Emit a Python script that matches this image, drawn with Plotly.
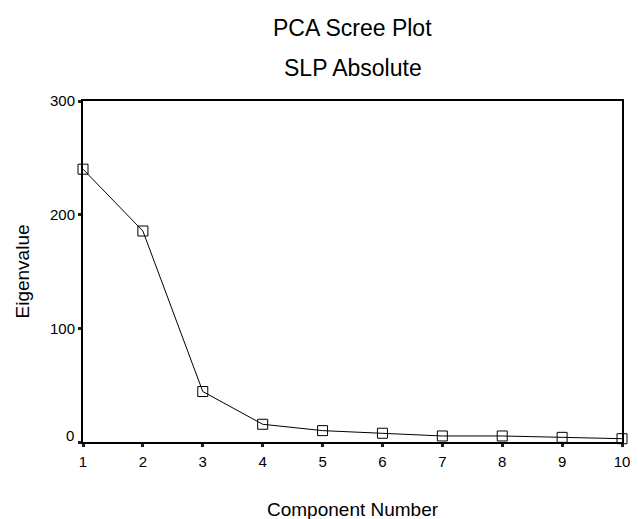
import plotly.graph_objects as go

components = [1, 2, 3, 4, 5, 6, 7, 8, 9, 10]
eigenvalues = [240, 185.6, 44.4, 15.6, 10.0, 7.7, 5.3, 5.3, 4.1, 2.9]
x_ticks = [1, 2, 3, 4, 5, 6, 7, 8, 9, 10]
y_ticks = [0, 100, 200, 300]

FONT = "Liberation Sans, Arial, sans-serif"

fig = go.Figure()
fig.add_trace(go.Scatter(
    x=components, y=eigenvalues, mode="lines+markers",
    line=dict(color="black", width=1),
    marker=dict(symbol="square-open", size=10, color="black", line=dict(width=1)),
    cliponaxis=False, showlegend=False,
))

# the bottom "0" label sits slightly above its tick in the reference
y_ticktext = ["" if v == 0 else str(v) for v in y_ticks]

fig.update_layout(
    width=630, height=511,
    margin=dict(l=75, r=8, t=93, b=77),
    paper_bgcolor="white", plot_bgcolor="white",
    font=dict(family=FONT, color="black", size=15),
    xaxis=dict(range=[1, 10], tickvals=x_ticks, ticktext=[str(v) for v in x_ticks],
               showgrid=False, zeroline=False, showline=True, linecolor="black", linewidth=2,
               mirror=True, ticks="outside", ticklen=3, tickwidth=3, tickcolor="#222",
               ticklabelstandoff=2, tickfont=dict(size=15)),
    yaxis=dict(range=[0, 300], tickvals=y_ticks, ticktext=y_ticktext,
               showgrid=False, zeroline=False, showline=True, linecolor="black", linewidth=2,
               mirror=True, ticks="outside", ticklen=3, tickwidth=3, tickcolor="#222",
               tickfont=dict(size=15)),
    annotations=[
        dict(text="PCA Scree Plot", xref="paper", yref="paper", x=0.5, y=1, yshift=73,
             showarrow=False, font=dict(size=23), xanchor="center", yanchor="middle"),
        dict(text="SLP Absolute", xref="paper", yref="paper", x=0.5, y=1, yshift=33,
             showarrow=False, font=dict(size=23), xanchor="center", yanchor="middle"),
        dict(text="Component Number", xref="paper", yref="paper", x=0.5, y=0, yshift=-67,
             showarrow=False, font=dict(size=19), xanchor="center", yanchor="middle"),
        dict(text="Eigenvalue", xref="paper", yref="paper", x=0, y=0.5, xshift=-61,
             showarrow=False, font=dict(size=19), textangle=-90, xanchor="center", yanchor="middle"),
        dict(text=str(y_ticks[0]), xref="paper", yref="y", x=0, y=y_ticks[0], xshift=-7, yshift=7,
             showarrow=False, font=dict(size=15), xanchor="right", yanchor="middle"),
    ],
)

fig.write_html("out.html")
